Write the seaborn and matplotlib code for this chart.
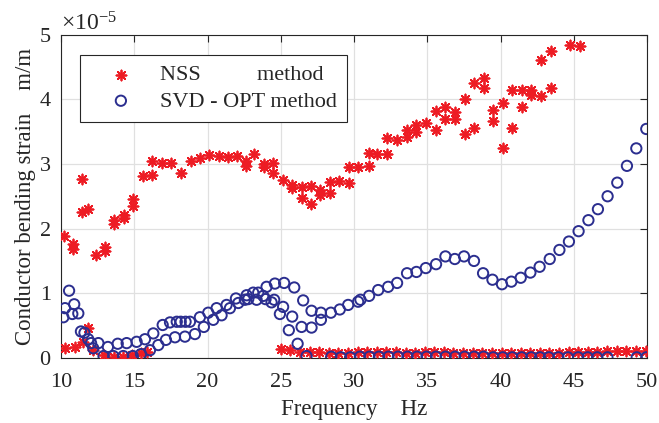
import numpy as np
import pandas as pd
import matplotlib
matplotlib.use("Agg")
import matplotlib.pyplot as plt
import seaborn as sns

# ---- data (values in units of 1e-5 m/m) ----
SCALE = 1e-5

nss_upper_f = [10.23, 10.8, 10.8, 11.41, 11.41, 11.82, 12.37, 13.0, 13.0, 13.64, 13.64, 14.3, 14.3,
               14.93, 14.93, 15.57, 16.23, 16.23, 16.87, 17.5, 18.16, 18.85, 19.48, 20.12, 20.78,
               21.41, 21.98, 22.6, 22.6, 23.2, 23.87, 23.87, 24.5, 24.5, 25.12, 25.78, 25.78, 26.42,
               26.42, 27.03, 27.03, 27.69, 27.69, 28.33, 28.33, 28.98, 29.64, 29.64, 30.3, 30.99,
               30.99, 31.6, 32.28, 32.28, 32.94, 33.6, 33.6, 34.26, 34.26, 34.94, 35.6, 35.6, 36.22,
               36.22, 36.92, 36.92, 37.56, 37.56, 38.19, 38.19, 38.85, 38.85, 39.52, 39.52, 40.15,
               40.15, 40.81, 40.81, 41.47, 41.47, 42.1, 42.1, 42.77, 42.77, 43.47, 43.47, 44.77, 45.45]
nss_upper_v = [1.89, 1.76, 1.68, 2.76, 2.25, 2.31, 1.59, 1.71, 1.65, 2.14, 2.07, 2.21, 2.17,
               2.46, 2.35, 2.82, 3.05, 2.83, 3.02, 3.01, 2.86, 3.05, 3.09, 3.14, 3.12,
               3.11, 3.12, 3.05, 2.96, 3.15, 3.0, 2.95, 3.02, 2.86, 2.75, 2.67, 2.62, 2.64,
               2.48, 2.66, 2.38, 2.59, 2.52, 2.72, 2.55, 2.73, 2.71, 2.95, 2.95, 2.97,
               3.17, 3.16, 3.15, 3.40, 3.37, 3.42, 3.52, 3.5, 3.6, 3.64, 3.82, 3.53, 3.88,
               3.69, 3.81, 3.69, 4.01, 3.46, 4.25, 3.55, 4.33, 4.17, 3.84, 3.66, 3.94,
               3.24, 4.14, 3.55, 4.14, 3.88, 4.14, 4.06, 4.6, 4.05, 4.75, 4.18, 4.84, 4.83]

nss_lower_f = [10.3, 10.97, 11.5, 11.82, 12.2, 12.9, 13.6, 14.25, 14.86, 15.47, 15.85,
               25.0, 25.66, 26.31, 26.97, 27.62, 28.28, 28.93, 29.59, 30.24, 30.9, 31.55, 32.21,
               32.86, 33.52, 34.17, 34.83, 35.48, 36.14, 36.79, 37.45, 38.1, 38.76, 39.41, 40.07,
               40.72, 41.38, 42.03, 42.69, 43.34, 44.0, 44.65, 45.31, 45.96, 46.62, 47.27, 47.93,
               48.58, 49.24, 49.9]
nss_lower_v = [0.15, 0.165, 0.25, 0.46, 0.13, 0.05, 0.02, 0.02, 0.05, 0.07, 0.10,
               0.14, 0.12, 0.09, 0.09, 0.09, 0.08, 0.08, 0.08, 0.09, 0.09, 0.09, 0.09,
               0.09, 0.08, 0.08, 0.09, 0.09, 0.09, 0.08, 0.08, 0.08, 0.08, 0.08, 0.07,
               0.07, 0.07, 0.07, 0.07, 0.07, 0.08, 0.09, 0.10, 0.10, 0.10, 0.11, 0.11,
               0.11, 0.11, 0.11]

svd_main_f = [10.16, 10.27, 10.55, 10.77, 10.9, 11.18, 11.36, 11.6, 11.86, 12.05, 12.2, 12.55,
              12.9, 13.2, 13.57, 13.87, 14.25, 14.48, 14.9, 15.16, 15.46, 15.73, 16.07, 16.3,
              16.64, 16.94, 17.16, 17.44, 17.78, 17.9, 18.17, 18.46, 18.5, 18.8, 19.14, 19.48,
              19.75, 20.05, 20.39, 20.62, 20.96, 21.3, 21.53, 21.94, 22.1, 22.55, 22.67, 22.78,
              23.12, 23.35, 23.46, 23.8, 23.96, 24.03, 24.37, 24.55, 24.6, 24.94, 25.16, 25.23,
              25.55, 25.78, 25.92, 26.15, 26.42, 26.53, 27.1, 27.1, 27.74, 27.74, 28.42, 29.03,
              29.6, 30.28, 30.44, 31.03, 31.65, 32.33, 32.94, 33.62, 34.26, 34.9, 35.6, 36.24,
              36.88, 37.51, 38.19, 38.81, 39.45, 40.1, 40.74, 41.38, 42.04, 42.67, 43.36, 44.02,
              44.67, 45.33, 46.0, 46.65, 47.31, 47.97, 48.63, 49.27, 49.95]
svd_main_v = [0.63, 0.77, 1.04, 0.68, 0.83, 0.69, 0.41, 0.39, 0.29, 0.23, 0.15, 0.23,
              0.03, 0.17, 0.03, 0.22, 0.03, 0.23, 0.03, 0.25, 0.06, 0.29, 0.12, 0.38,
              0.20, 0.51, 0.28, 0.55, 0.32, 0.56, 0.56, 0.33, 0.56, 0.56, 0.37, 0.63,
              0.48, 0.70, 0.59, 0.77, 0.66, 0.82, 0.77, 0.92, 0.85, 0.90, 0.97, 0.91,
              1.01, 0.90, 1.01, 0.96, 0.91, 1.10, 0.86, 0.90, 1.15, 0.68, 0.79, 1.16,
              0.43, 0.64, 1.09, 0.22, 0.48, 0.89, 0.47, 0.73, 0.59, 0.70, 0.70, 0.75,
              0.82, 0.87, 0.90, 0.96, 1.05, 1.10, 1.16, 1.31, 1.33, 1.39, 1.45, 1.57,
              1.53, 1.57, 1.50, 1.31, 1.21, 1.14, 1.18, 1.24, 1.32, 1.41, 1.53, 1.67,
              1.80, 1.96, 2.13, 2.30, 2.50, 2.71, 2.97, 3.24, 3.54]

svd_low_f = [26.76, 28.45, 29.1, 29.75, 30.4, 31.05, 31.7, 32.35, 33.0, 33.65, 34.3, 34.95,
             35.6, 36.25, 36.9, 37.55, 38.2, 38.85, 39.5, 40.15, 40.8, 41.45, 42.1, 42.7,
             43.3, 43.95, 44.6, 45.3, 45.95, 46.6, 47.3, 49.3, 49.95]
svd_low_v = [0.03, 0.02, 0.01, 0.01, 0.02, 0.02, 0.02, 0.02, 0.02, 0.02, 0.02, 0.02,
             0.02, 0.02, 0.02, 0.02, 0.02, 0.02, 0.01, 0.01, 0.01, 0.01, 0.01, 0.01,
             0.01, 0.01, 0.01, 0.01, 0.01, 0.01, 0.01, 0.01, 0.01]

x_ticks = [10, 15, 20, 25, 30, 35, 40, 45, 50]
y_ticks = [0, 1, 2, 3, 4, 5]

nss_label = "NSS          method"
svd_label = "SVD - OPT method"
x_label = "Frequency    Hz"
y_label = "Conductor bending strain    m/m"

RED = "#ED1C24"
BLUE = "#2B2E8F"
INK = "#262626"

nss = pd.DataFrame({"freq": nss_upper_f + nss_lower_f,
                    "strain": np.array(nss_upper_v + nss_lower_v) * SCALE})
svd = pd.DataFrame({"freq": svd_main_f + svd_low_f,
                    "strain": np.array(svd_main_v + svd_low_v) * SCALE})

sns.set_style("white")
plt.rcParams["font.family"] = ["Liberation Serif", "DejaVu Serif"]
plt.rcParams["mathtext.fontset"] = "custom"
plt.rcParams["mathtext.rm"] = "Liberation Serif"
plt.rcParams["mathtext.it"] = "Liberation Serif:italic"

fig = plt.figure(figsize=(6.59, 4.23), dpi=100)
ax = fig.add_axes([0.0926, 0.1537, 0.8892, 0.7647])

sns.scatterplot(data=nss, x="freq", y="strain", ax=ax, marker=(8, 2, 0), s=52,
                color=RED, linewidth=1.3, label=nss_label, zorder=3)
sns.scatterplot(data=svd, x="freq", y="strain", ax=ax, marker="o", s=55,
                color=BLUE, facecolor="none", edgecolor=BLUE, linewidth=1.4,
                label=svd_label, zorder=4)

ax.set_xlim(10, 50)
ax.set_ylim(0, 5 * SCALE)
ax.set_xticks(x_ticks)
ax.set_yticks([t * SCALE for t in y_ticks])
ax.ticklabel_format(axis="y", style="sci", scilimits=(0, 0), useMathText=True)
ax.yaxis.get_offset_text().set_fontsize(17)
ax.yaxis.get_offset_text().set_color(INK)

ax.grid(True, color="#e0e0e0", linewidth=0.9)
ax.set_axisbelow(True)
for sp in ax.spines.values():
    sp.set_color(INK)
    sp.set_linewidth(0.8)
ax.tick_params(direction="in", top=True, right=True, length=5, width=0.8,
               colors=INK, labelsize=16)
ax.tick_params(axis="x", pad=11)
ax.tick_params(axis="y", pad=7)
ax.set_xlabel(x_label, fontsize=16.5, color=INK, labelpad=5)
ax.set_ylabel(y_label, fontsize=16.5, color=INK, labelpad=1.5)

leg = ax.legend(loc="upper left", bbox_to_anchor=(0.032, 0.937), borderaxespad=0,
                fontsize=16, frameon=True, fancybox=False, framealpha=1,
                edgecolor=INK, handlelength=2.8, handletextpad=0.35,
                labelspacing=0.25, borderpad=0.45, scatterpoints=1)
leg.get_frame().set_linewidth(0.8)

fig.savefig("out.png", dpi=100)
